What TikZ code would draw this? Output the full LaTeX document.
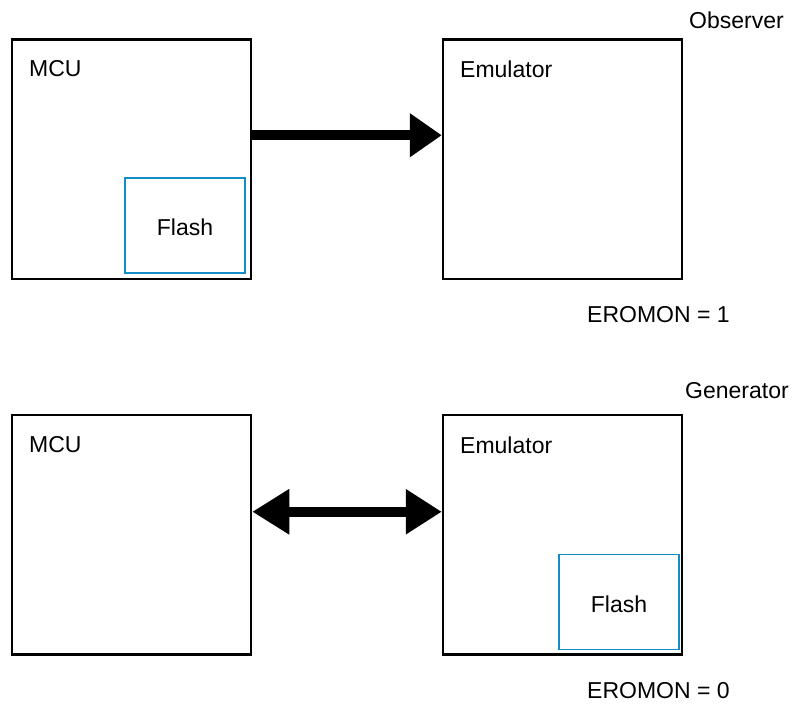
\documentclass[tikz,border=0pt]{standalone}
\usepackage{fontspec}
\setmainfont{Liberation Sans}
\usetikzlibrary{arrows.meta, positioning}
\definecolor{flashblue}{RGB}{20,140,200}
\tikzset{unitbox/.style={draw,line width=2.5pt,minimum width=239pt,minimum height=239.5pt,inner sep=0pt},
    flashbox/.style={draw=flashblue,line width=1.4pt,minimum width=120pt,minimum height=95pt,inner sep=0pt,text height=21pt},
    caption/.style={anchor=base west,inner sep=0pt},
    bus/.style={draw,line width=10pt}}

\begin{document}
\begin{tikzpicture}[x=1pt,y=-1pt,every node/.style={font=\fontsize{23}{28}\selectfont}]
    \useasboundingbox (0,0) rectangle (793,707);
    \foreach \pos/\name in {{(131.5,159.25)/mcuA}, {(562.5,159.25)/emuA}, {(131.5,534.75)/mcuB}, {(562.5,534.75)/emuB}}
                \node[unitbox] (\name) at \pos {};

    \node[flashbox] (flashA) at (185,225.5) {Flash};
    \node[flashbox] (flashB) at (619,602) {Flash};

    \foreach \pos/\name/\txt in {{(29,76)/mcuAlbl/MCU}, {(460,77)/emuAlbl/Emulator}, {(689,28)/modeA/Observer}, {(587,322)/bitA/EROMON = 1},
        {(29,452)/mcuBlbl/MCU}, {(460,453)/emuBlbl/Emulator}, {(685,398)/modeB/Generator}, {(587,698)/bitB/EROMON = 0}}
                \node[caption] (\name) at \pos {\txt};

    \path[bus,-{Triangle[length=32pt,width=42pt]}] ([yshift=24pt]mcuA.east) -- ([yshift=24pt]emuA.west);
    \path[bus,{Triangle[length=37pt,width=43pt]}-{Triangle[length=36pt,width=43pt]}] ([yshift=23pt]mcuB.east) -- ([yshift=23pt]emuB.west);
\end{tikzpicture}
\end{document}
